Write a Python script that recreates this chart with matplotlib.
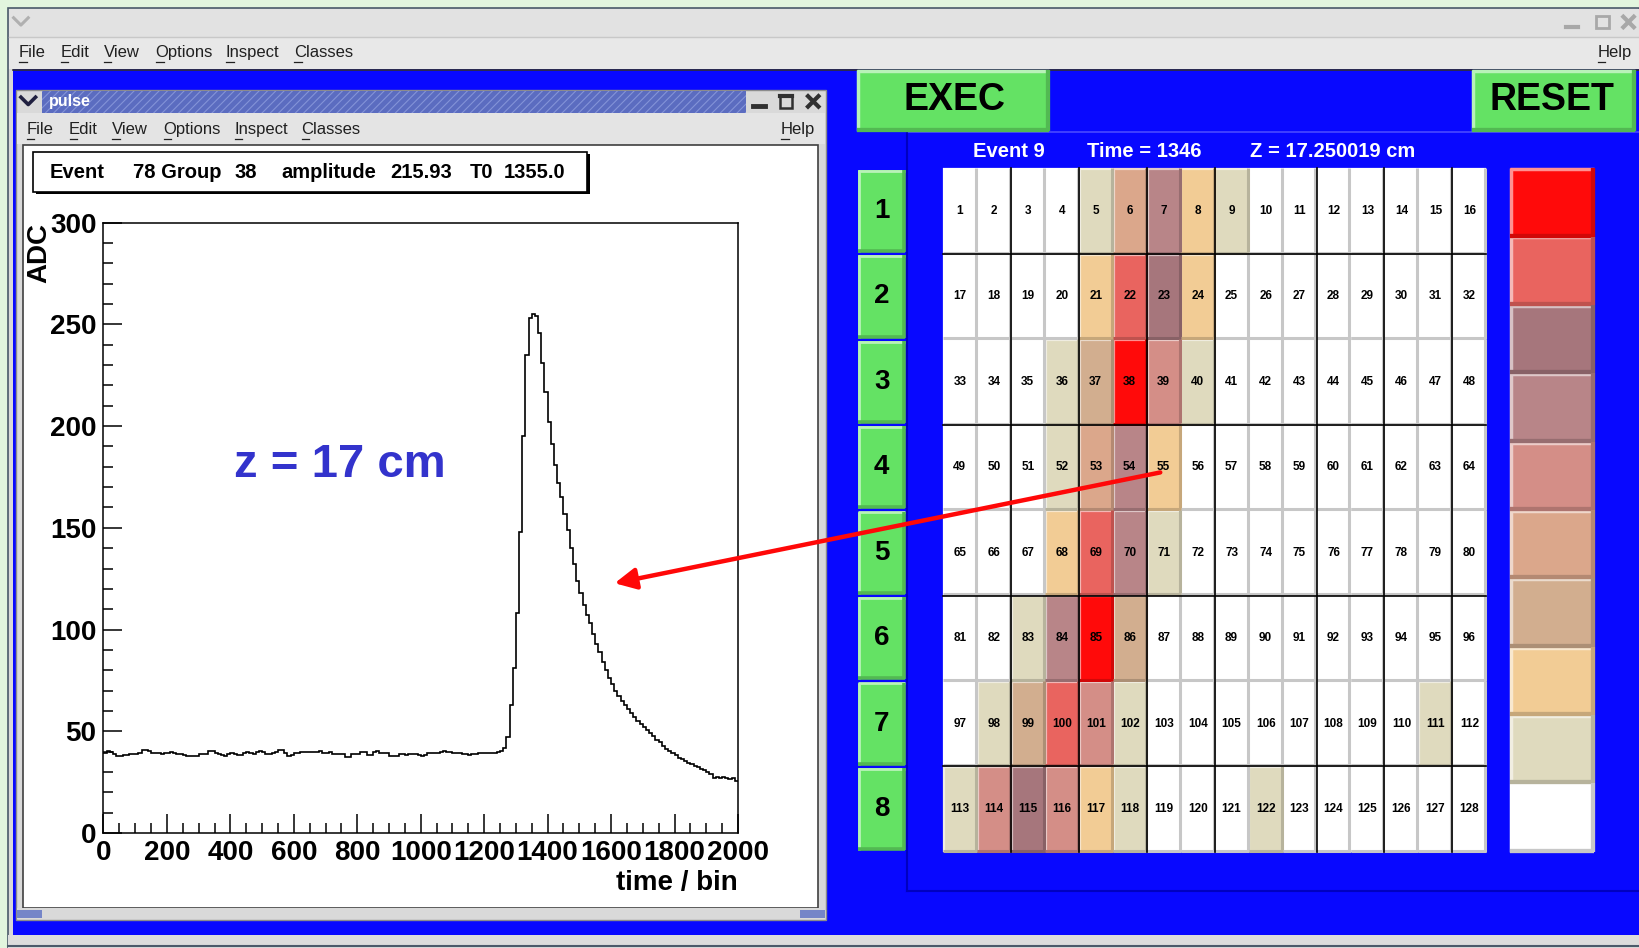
import numpy as np
import matplotlib
matplotlib.use('Agg')
import matplotlib.pyplot as plt
from matplotlib.patches import Rectangle
from matplotlib.colors import to_rgb
from matplotlib.ticker import MultipleLocator

plt.rcParams['font.family'] = ['Liberation Sans', 'DejaVu Sans']
plt.rcParams['hatch.linewidth'] = 0.8

# ---- data -------------------------------------------------------------
bin_width = 10
time_bins = np.arange(0, 2000, bin_width)

adc_baseline_a = [39.5, 40.2, 40.0, 39.0, 38.0, 38.0, 38.3, 38.5, 38.7, 38.7,
                  39.0, 39.5, 40.8, 40.8, 40.3, 39.5, 39.1, 39.1, 39.0, 39.5,
                  39.5, 40.0, 39.3, 39.0, 38.6, 38.3, 37.8, 37.8, 37.8, 38.0,
                  38.8, 39.0, 39.0, 40.2, 40.4, 39.3, 39.0, 38.5, 38.0, 38.7,
                  39.2, 38.8, 38.3, 38.5, 39.5, 39.8, 39.2, 38.6, 39.8, 40.3,
                  39.8, 39.0, 38.8, 39.2, 40.0, 40.8, 41.0, 39.5, 38.0, 38.3,
                  39.2, 39.4]
adc_baseline_b = [40.0, 40.0, 39.8, 40.0, 40.0, 40.0, 40.3, 39.1, 39.1, 39.6,
                  38.7, 38.7, 38.7, 38.7, 37.5, 37.5, 38.7, 38.7, 38.7, 39.6,
                  39.6, 38.3, 38.5, 40.0, 40.3, 39.5, 39.5, 39.2, 38.0, 38.0,
                  38.0, 38.7, 38.7, 38.5, 38.7, 38.7, 38.7, 38.5, 38.0, 38.2,
                  39.1, 39.1, 39.3, 39.1, 39.8, 40.3, 40.0, 39.6, 39.5, 39.5,
                  39.3, 38.7, 38.7, 38.5, 38.7, 38.7, 39.1, 39.1, 39.1, 39.1,
                  39.1, 39.3, 40.0, 40.2]
adc_pulse = [42, 47, 63, 81, 108, 148, 195, 235, 253, 255,
             254, 246, 231, 217, 202, 191, 181, 172, 165, 157,
             149, 140, 132, 124, 118, 112, 107, 103, 98, 93,
             89, 84, 80, 76, 73, 70, 67.5, 65, 63, 61,
             59, 57, 55, 53.5, 52, 50.5, 49, 47.5, 45.5, 44.5,
             43, 41.5, 40.5, 39.5, 38.5, 37, 36.5, 35.5, 34.5, 34,
             33, 32.5, 31.5, 31, 30, 29, 27, 27.5, 27, 27.5,
             27, 26.5, 26.8, 25.5]
adc = adc_baseline_a + adc_baseline_b + adc_pulse

stats_labels = ['Event', '78 Group', '38', 'amplitude', '215.93', 'T0', '1355.0']
header_labels = ['Event 9', 'Time = 1346', 'Z = 17.250019 cm']
row_labels = ['1', '2', '3', '4', '5', '6', '7', '8']

# colour level (0 = empty ... 9 = max) of each pad, 8 rows x 16 columns
pad_levels = [
    [0, 0, 0, 0, 1, 4, 6, 2, 1, 0, 0, 0, 0, 0, 0, 0],
    [0, 0, 0, 0, 2, 8, 7, 2, 0, 0, 0, 0, 0, 0, 0, 0],
    [0, 0, 0, 1, 3, 9, 5, 1, 0, 0, 0, 0, 0, 0, 0, 0],
    [0, 0, 0, 1, 4, 6, 2, 0, 0, 0, 0, 0, 0, 0, 0, 0],
    [0, 0, 0, 2, 8, 6, 1, 0, 0, 0, 0, 0, 0, 0, 0, 0],
    [0, 0, 1, 6, 9, 3, 0, 0, 0, 0, 0, 0, 0, 0, 0, 0],
    [0, 1, 3, 8, 5, 1, 0, 0, 0, 0, 0, 0, 0, 0, 1, 0],
    [1, 5, 7, 5, 2, 1, 0, 0, 0, 1, 0, 0, 0, 0, 0, 0],
]
palette = ['#FFFFFF', '#DFDABE', '#F2CC95', '#D2AE8F', '#DBA78B',
           '#D48E87', '#B88588', '#A6767C', '#E9645F', '#FF0A0A']

# ---- helpers ------------------------------------------------------------
BLUE = '#0808FF'
GREEN = '#64E264'


def darker(c, f):
    return tuple(np.array(to_rgb(c)) * f)


def lighter(c, f):
    rgb = np.array(to_rgb(c))
    return tuple(rgb + (1 - rgb) * f)


def bevel_box(ax, x, y, w, h, face, lw=1.6, z=2):
    ax.add_patch(Rectangle((x, y), w, h, facecolor=face, edgecolor='none', zorder=z))
    dk = (0.78, 0.78, 0.78) if face == '#FFFFFF' else darker(face, 0.82)
    lt = lighter(face, 0.55)
    ax.plot([x, x + w], [y + 0.8, y + 0.8], color=lt, lw=lw, zorder=z + 0.1, solid_capstyle='butt')
    ax.plot([x + 0.8, x + 0.8], [y, y + h], color=lt, lw=lw, zorder=z + 0.1, solid_capstyle='butt')
    ax.plot([x, x + w], [y + h - 1, y + h - 1], color=dk, lw=lw + 0.6, zorder=z + 0.2, solid_capstyle='butt')
    ax.plot([x + w - 1, x + w - 1], [y, y + h], color=dk, lw=lw + 0.6, zorder=z + 0.2, solid_capstyle='butt')


def menu(ax, words, y, color='#202020'):
    for word, x in words:
        ax.text(x, y, word, fontsize=12, color=color, ha='left', va='center', zorder=5)
        ax.plot([x + 0.5, x + 7.5], [y + 9, y + 9], color=color, lw=0.9, zorder=5)


def close_icon(ax, xc, yc, color, s=5.5):
    ax.plot([xc - s, xc + s], [yc - s, yc + s], color=color, lw=3, zorder=6)
    ax.plot([xc - s, xc + s], [yc + s, yc - s], color=color, lw=3, zorder=6)


# ---- figure ------------------------------------------------------------
fig = plt.figure(figsize=(16.39, 9.48), dpi=100)
W, H = 1568, 907

ax = fig.add_axes([0, 0, 1, 1])
ax.set_xlim(0, W)
ax.set_ylim(H, 0)
ax.axis('off')

# screen & main window
ax.add_patch(Rectangle((0, 0), W, H, facecolor='#E2F5DE', zorder=0))
ax.add_patch(Rectangle((8, 8), W - 8, H - 8, facecolor='#D8D8D8', edgecolor='#4B5A6A', lw=1.2, zorder=0.5))
ax.add_patch(Rectangle((9, 9), W - 9, 26, facecolor='#E2E2E2', zorder=1))
ax.plot([13, 20, 27], [17, 24, 17], color='#B0B0B0', lw=2.2, zorder=2)
ax.plot([1498, 1510], [26, 26], color='#A8A8A8', lw=3, zorder=2)
ax.add_patch(Rectangle((1527, 15), 12, 12, facecolor='none', edgecolor='#A8A8A8', lw=2, zorder=2))
close_icon(ax, 1558, 21, '#A8A8A8', 5)
ax.add_patch(Rectangle((9, 35), W - 9, 31, facecolor='#E8E8E8', zorder=1))
ax.plot([9, W], [35, 35], color='#C8C8C8', lw=1, zorder=1.5)
menu(ax, [('File', 18), ('Edit', 58), ('View', 99), ('Options', 149),
          ('Inspect', 216), ('Classes', 281), ('Help', 1528)], 50)
ax.add_patch(Rectangle((12, 66), W - 12, 829, facecolor=BLUE, zorder=1))
ax.plot([12, W], [66.5, 66.5], color='#303030', lw=1.2, zorder=1.5)
ax.add_patch(Rectangle((8, 895), W - 8, 12, facecolor='#DCDCDC', zorder=1))
ax.plot([8, W], [905, 905], color='#4B5A6A', lw=1.5, zorder=1.5)

# pulse window
ax.add_patch(Rectangle((15, 86), 775, 794, facecolor='#D9D9D9', edgecolor='#8C8C8C', lw=1, zorder=2))
ax.add_patch(Rectangle((40, 87), 674, 21, facecolor='#5B6CC0', edgecolor='#8493D8', hatch='////', lw=0, zorder=3))
ax.plot([20, 27, 34], [93, 100, 93], color='#202040', lw=2.6, zorder=4)
ax.text(47, 97, 'pulse', fontsize=11.5, fontweight='bold', color='white', ha='left', va='center', zorder=5)
ax.plot([720, 732], [101, 101], color='#303030', lw=3.5, zorder=4)
ax.add_patch(Rectangle((746, 91), 12, 12, facecolor='none', edgecolor='#303030', lw=1.8, zorder=4))
ax.plot([746, 758], [92, 92], color='#303030', lw=3, zorder=4)
close_icon(ax, 778, 97, '#303030', 5)
ax.add_patch(Rectangle((16, 108), 773, 30, facecolor='#E4E4E4', zorder=3))
menu(ax, [('File', 25), ('Edit', 66), ('View', 107), ('Options', 156),
          ('Inspect', 224), ('Classes', 288), ('Help', 747)], 124)
ax.add_patch(Rectangle((22, 139), 761, 730, facecolor='white', edgecolor='#404040', lw=1.2, zorder=3))
ax.add_patch(Rectangle((16, 869), 773, 10, facecolor='#D9D9D9', zorder=3))
ax.add_patch(Rectangle((16, 871), 24, 7, facecolor='#7585C8', zorder=3.5))
ax.add_patch(Rectangle((765, 871), 24, 7, facecolor='#7585C8', zorder=3.5))

# stats box
ax.add_patch(Rectangle((34, 147), 530, 39, facecolor='black', zorder=3.8))
ax.add_patch(Rectangle((32, 145), 530, 39, facecolor='white', edgecolor='black', lw=1.2, zorder=4))
for label, x in zip(stats_labels, [47, 127, 224, 269, 373, 449, 482]):
    ax.text(x, 165, label, fontsize=14.5, fontweight='bold', ha='left', va='center', zorder=5)

# control panel
bevel_box(ax, 820, 67, 184, 58, GREEN, lw=2.5)
bevel_box(ax, 1408, 67, 156, 58, GREEN, lw=2.5)
ax.text(913, 96, 'EXEC', fontsize=27, fontweight='bold', ha='center', va='center', zorder=5)
ax.text(1485, 96, 'RESET', fontsize=27, fontweight='bold', ha='center', va='center', zorder=5)
ax.plot([868, W], [126, 126], color='#4A4AFF', lw=1.2, zorder=1.6)
ax.plot([868, 868], [126, 852], color='#0000C0', lw=1.5, zorder=1.6)
ax.plot([868, W], [852, 852], color='#0000C0', lw=1.5, zorder=1.6)
for label, x in zip(header_labels, [965, 1095, 1275]):
    ax.text(x, 145, label, fontsize=14.5, fontweight='bold', color='white', ha='center', va='center', zorder=5)

grid_x0, grid_y0, grid_x1, grid_y1 = 902, 161, 1422, 815
n_rows, n_cols = len(pad_levels), len(pad_levels[0])
cw = (grid_x1 - grid_x0) / n_cols
rh = (grid_y1 - grid_y0) / n_rows
for i, row in enumerate(pad_levels):
    y = grid_y0 + i * rh
    bevel_box(ax, 821, y + 1.5, 45, rh - 3, GREEN, lw=2)
    ax.text(843.5, y + rh / 2, row_labels[i], fontsize=20, fontweight='bold', ha='center', va='center', zorder=5)
    for j, lev in enumerate(row):
        x = grid_x0 + j * cw
        bevel_box(ax, x, y, cw, rh, palette[lev], lw=1.6, z=2)
        ax.text(x + cw / 2, y + rh / 2, str(i * n_cols + j + 1), fontsize=8.5, fontweight='bold',
                ha='center', va='center', zorder=5)
for j in [2, 4, 6, 8, 11, 13, 15]:
    xl = grid_x0 + j * cw
    ax.plot([xl, xl], [grid_y0, grid_y1], color='black', lw=1.2, zorder=3)
for i in [1, 3, 5, 7]:
    yl = grid_y0 + i * rh
    ax.plot([grid_x0, grid_x1], [yl, yl], color='black', lw=1.2, zorder=3)

ph = (grid_y1 - grid_y0) / len(palette)
for k, col in enumerate(palette[::-1]):
    bevel_box(ax, 1445, grid_y0 + k * ph, 80, ph, col, lw=2.5)

# ---- histogram -------------------------------------------------------------
hx0, hx1, hy0, hy1 = 99, 706, 213, 797
hax = fig.add_axes([hx0 / W, 1 - hy1 / H, (hx1 - hx0) / W, (hy1 - hy0) / H])
hax.set_zorder(5)
hax.stairs(adc, np.append(time_bins, time_bins[-1] + bin_width), baseline=None, color='black', lw=1.2)
hax.set_xlim(0, 2000)
hax.set_ylim(0, 300)
hax.xaxis.set_major_locator(MultipleLocator(200))
hax.xaxis.set_minor_locator(MultipleLocator(50))
hax.yaxis.set_major_locator(MultipleLocator(50))
hax.yaxis.set_minor_locator(MultipleLocator(10))
hax.tick_params(which='both', direction='in', top=False, right=False, width=1.1)
hax.tick_params(which='major', length=13.5, pad=5, labelsize=20)
hax.tick_params(which='minor', length=7)
for lab in hax.get_xticklabels() + hax.get_yticklabels():
    lab.set_fontweight('bold')
for sp in hax.spines.values():
    sp.set_linewidth(1.1)
hax.set_ylabel('ADC', fontsize=20, fontweight='bold', loc='top')
hax.yaxis.set_label_coords(-0.08, 1.0)
hax.set_xlabel('time / bin', fontsize=20, fontweight='bold', loc='right', labelpad=3)

# ---- overlay: annotation and arrow ------------------------------------------
top = fig.add_axes([0, 0, 1, 1])
top.set_zorder(10)
top.set_xlim(0, W)
top.set_ylim(H, 0)
top.axis('off')
top.patch.set_alpha(0)
top.text(325, 445, 'z = 17 cm', fontsize=34, fontweight='bold', color='#3333CC', ha='center', va='center')
top.annotate('', xy=(588, 558), xytext=(1110, 452),
             arrowprops=dict(arrowstyle='-|>', color='#FF0808', lw=3.2, mutation_scale=32, shrinkA=0, shrinkB=0))

fig.savefig('out.png', dpi=100)
